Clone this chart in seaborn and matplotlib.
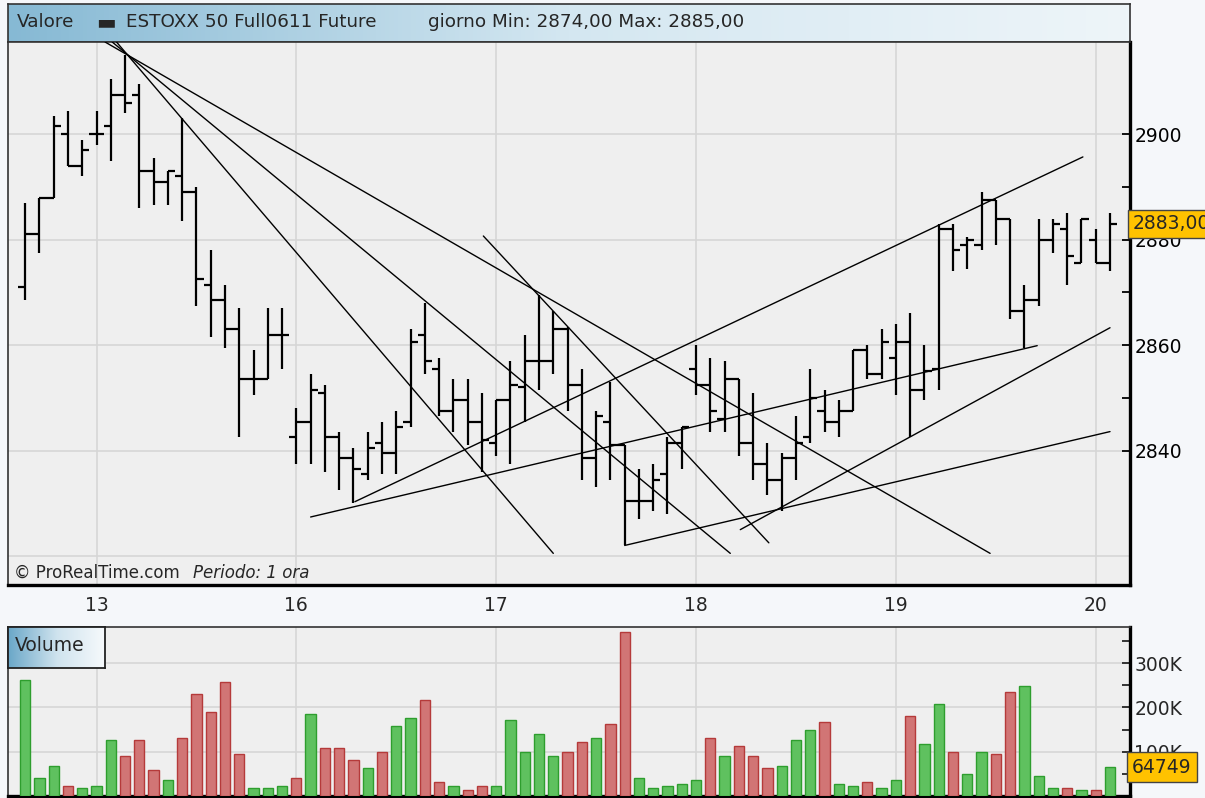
import numpy as np
import pandas as pd
import matplotlib
matplotlib.use("Agg")
import matplotlib.pyplot as plt
import matplotlib.ticker as mticker
import matplotlib.transforms as mtransforms
from matplotlib.colors import LinearSegmentedColormap
import seaborn as sns

# hourly bars, index 0 = first bar on the chart
bar_open = [2871, 2881, 2888, 2900, 2894, 2900, 2901.5, 2907.5, 2907.5, 2893,
            2891, 2892, 2889, 2871.5, 2868.5, 2863, 2853.5, 2853.5, 2862, 2842.5,
            2845.5, 2851, 2842.5, 2838.5, 2835.5, 2841.5, 2839.5, 2845.5, 2862, 2855.5,
            2847.5, 2849.5, 2845.5, 2841.5, 2849.5, 2852, 2857, 2857, 2863, 2852.5,
            2838.5, 2845.5, 2841, 2830.5, 2830.5, 2835.5, 2841.5, 2855.5, 2852.5, 2846,
            2853.5, 2841.5, 2837.5, 2834.5, 2838.5, 2842.5, 2847.5, 2845.5, 2847.5, 2859,
            2854.5, 2857.5, 2860.5, 2851.5, 2855.5, 2882, 2879, 2879, 2887.5, 2884,
            2866.5, 2868.5, 2880, 2882, 2875.5, 2880, 2875.5]
bar_high = [2887, 2888, 2903.5, 2904.5, 2899, 2904.5, 2910.5, 2915, 2909.5, 2895.5,
            2893, 2903, 2890, 2878, 2871.5, 2867, 2859, 2867, 2867, 2848,
            2854.5, 2852.5, 2843.5, 2840.5, 2843.5, 2845.5, 2847.5, 2863, 2868, 2857.5,
            2853.5, 2853.5, 2851, 2849.5, 2857, 2862, 2869.5, 2866.5, 2863.5, 2855.5,
            2847.5, 2853, 2841, 2836.5, 2837.5, 2842.5, 2844.5, 2860, 2857.5, 2857,
            2853.5, 2851, 2841.5, 2839.5, 2846.5, 2855.5, 2851.5, 2849.5, 2859, 2860,
            2863, 2864, 2866, 2860, 2883, 2883, 2880.5, 2889, 2887.5, 2884,
            2871.5, 2884, 2884, 2885, 2884, 2882, 2885]
bar_low = [2868.5, 2877.5, 2888, 2894, 2892, 2898, 2895, 2904, 2886, 2886.5,
           2886.5, 2883.5, 2867.5, 2861.5, 2859.5, 2842.5, 2850.5, 2853.5, 2855.5, 2837.5,
           2837.5, 2836, 2832.5, 2830, 2834.5, 2835.5, 2835.5, 2844.5, 2854.5, 2846.5,
           2843.5, 2841, 2836, 2839, 2837.5, 2845.5, 2851.5, 2854.5, 2847.5, 2834.5,
           2833, 2834.5, 2822, 2827, 2828.5, 2828, 2836.5, 2850.5, 2843.5, 2843.5,
           2839, 2834.5, 2831.5, 2828.5, 2834.5, 2841.5, 2843.5, 2842.5, 2847.5, 2853.5,
           2853.5, 2850.5, 2842.5, 2849.5, 2851.5, 2874, 2874.5, 2878, 2879, 2865,
           2859.5, 2867.5, 2877.5, 2871.5, 2875.5, 2875.5, 2874]
bar_close = [2881, 2888, 2901.5, 2894, 2897, 2900, 2907.5, 2906, 2893, 2891,
             2893, 2889, 2872.5, 2868.5, 2863, 2853.5, 2853.5, 2862, 2862, 2845.5,
             2851.5, 2842.5, 2838.5, 2836.5, 2840.5, 2839.5, 2844.5, 2860.5, 2857, 2847.5,
             2849.5, 2845.5, 2842, 2849.5, 2852.5, 2857, 2857, 2863, 2852.5, 2838.5,
             2846.5, 2841, 2830.5, 2830.5, 2834.5, 2841.5, 2844.5, 2852.5, 2847.5, 2853.5,
             2841.5, 2837.5, 2834.5, 2838.5, 2841.5, 2850, 2845.5, 2847.5, 2859, 2854.5,
             2860.5, 2860.5, 2851.5, 2855, 2882, 2878, 2880, 2887.5, 2884, 2866.5,
             2868.5, 2880, 2883, 2877, 2884, 2875.5, 2883]
volume = [262000, 40000, 68000, 23000, 17000, 23000, 126000, 90000, 126000, 58000,
          35000, 131000, 230000, 190000, 257000, 95000, 17000, 17000, 23000, 40000,
          184000, 108000, 108000, 81000, 63000, 99000, 158000, 176000, 217000, 32000,
          23000, 13000, 23000, 23000, 171000, 99000, 140000, 90000, 99000, 122000,
          131000, 163000, 370000, 40000, 17000, 23000, 27000, 35000, 131000, 90000,
          113000, 90000, 63000, 68000, 126000, 149000, 167000, 27000, 23000, 32000,
          17000, 35000, 181000, 117000, 207000, 99000, 50000, 99000, 95000, 235000,
          248000, 45000, 17000, 17000, 13000, 13000, 64749]

day_pos = [5, 19, 33, 47, 61, 75]
day_labels = ["13", "16", "17", "18", "19", "20"]

# hand-drawn trendlines: (start bar, start price, end bar, end price)
line_x0 = [6.4, 6.1, 5.6, 32.1, 20.0, 42.0, 23.1, 50.1]
line_y0 = [2917.5, 2917.5, 2917.5, 2880.7, 2827.4, 2822.0, 2830.3, 2825.0]
line_x1 = [37.0, 49.4, 67.6, 52.1, 70.9, 76.0, 74.1, 76.0]
line_y1 = [2820.5, 2820.5, 2820.5, 2822.5, 2859.9, 2843.6, 2895.7, 2863.3]

last_price = 2883.00
last_volume = 64749

df = pd.DataFrame({"idx": np.arange(len(bar_close)), "open": bar_open, "high": bar_high,
                   "low": bar_low, "close": bar_close, "volume": volume})
prev_close = df["close"].shift(1).fillna(df["open"])
df["dir"] = np.where(df["close"] >= prev_close, "up", "down")

sns.set_theme(style="white")
plt.rcParams["font.family"] = ["DejaVu Sans"]

W, H = 1205, 798
fig = plt.figure(figsize=(W / 100, H / 100), dpi=100, facecolor="#F5F7FA")


def frac(x0, y0, x1, y1):
    return [x0 / W, 1 - y1 / H, (x1 - x0) / W, (y1 - y0) / H]


grad = np.linspace(0, 1, 256).reshape(1, -1)
bg = "#EFEFEF"
grid_c = "#D6D6D6"

# header bar
ax_head = fig.add_axes(frac(8, 4, 1130, 42))
ax_head.imshow(grad, aspect="auto", extent=[0, 1, 0, 1],
               cmap=LinearSegmentedColormap.from_list("hd", ["#86B9D4", "#D4E7F1", "#EEF5F9"]))
ax_head.set_xticks([]); ax_head.set_yticks([])
for s in ax_head.spines.values():
    s.set_color("#333333"); s.set_linewidth(1.2)
ty = 1 - 22 / H
fig.text(17 / W, ty, "Valore", fontsize=13.2, va="center")
fig.text(96 / W, ty, "▬", fontsize=15, va="center")
fig.text(126 / W, ty, "ESTOXX 50 Full0611 Future", fontsize=13.2, va="center")
fig.text(428 / W, ty, "giorno Min: 2874,00 Max: 2885,00", fontsize=13.2, va="center")

# price panel
ax = fig.add_axes(frac(8, 42, 1130, 585))
ax.set_facecolor(bg)
for p in [2820, 2840, 2860, 2880, 2900]:
    ax.axhline(p, color=grid_c, lw=1.2, zorder=0)
for d in day_pos:
    ax.axvline(d, color=grid_c, lw=1.2, zorder=0)

ax.vlines(df["idx"], df["low"], df["high"], color="black", lw=1.6, zorder=3)
ax.hlines(df["open"], df["idx"] - 0.5, df["idx"], color="black", lw=1.6, zorder=3)
ax.hlines(df["close"], df["idx"], df["idx"] + 0.5, color="black", lw=1.6, zorder=3)

for x0, y0, x1, y1 in zip(line_x0, line_y0, line_x1, line_y1):
    ax.plot([x0, x1], [y0, y1], color="black", lw=1.0, zorder=4)

ax.set_xlim(-1.2, 77.4)
ax.set_ylim(2814.5, 2917.5)
ax.yaxis.tick_right()
ax.set_yticks(np.arange(2840, 2901, 10))
ax.yaxis.set_major_formatter(mticker.FuncFormatter(
    lambda v, p: f"{int(v)}" if int(round(v)) % 20 == 0 else ""))
ax.tick_params(axis="y", direction="in", length=6, width=1.3, labelsize=13.5, pad=3, colors="black")
ax.set_xticks(day_pos)
ax.set_xticklabels(day_labels)
ax.tick_params(axis="x", direction="out", length=4, width=1.3, labelsize=13.5, pad=4)
for side in ["left", "top"]:
    ax.spines[side].set_color("#333333"); ax.spines[side].set_linewidth(1.2)
for side in ["right", "bottom"]:
    ax.spines[side].set_color("black"); ax.spines[side].set_linewidth(2.4)

blend = mtransforms.blended_transform_factory(ax.transAxes, ax.transData)
ax.text(1.002, last_price, f"{last_price:.2f}".replace(".", ","), transform=blend,
        va="center", ha="left", fontsize=13.5, zorder=10, clip_on=False,
        bbox=dict(boxstyle="square,pad=0.25", fc="#FFC200", ec="#444444", lw=1))

fig.text(14 / W, 1 - 573 / H, "© ProRealTime.com", fontsize=12, va="center")
fig.text(193 / W, 1 - 573 / H, "Periodo: 1 ora", fontsize=12, va="center", style="italic")

# volume panel
axv = fig.add_axes(frac(8, 627, 1130, 796))
axv.set_facecolor(bg)
for v in [100000, 200000, 300000]:
    axv.axhline(v, color=grid_c, lw=1.2, zorder=0)
for d in day_pos:
    axv.axvline(d, color=grid_c, lw=1.2, zorder=0)

sns.barplot(data=df, x="idx", y="volume", hue="dir", native_scale=True, dodge=False,
            palette={"up": "#4FD14F", "down": "#E06666"}, width=0.72, errorbar=None,
            legend=False, ax=axv, zorder=3)
for patch in axv.patches:
    fc = patch.get_facecolor()
    patch.set_edgecolor("#2E9E2E" if fc[1] > fc[0] else "#B53A3A")
    patch.set_linewidth(1.0)

axv.set_xlim(-1.2, 77.4)
axv.set_ylim(0, 381500)
axv.set_xlabel(""); axv.set_ylabel("")
axv.set_xticks(day_pos)
axv.set_xticklabels([])
axv.tick_params(axis="x", length=0)
axv.yaxis.tick_right()
axv.set_yticks(np.arange(50000, 351000, 50000))
axv.yaxis.set_major_formatter(mticker.FuncFormatter(
    lambda v, p: f"{int(v / 1000)}K" if int(round(v)) % 100000 == 0 else ""))
axv.tick_params(axis="y", direction="in", length=6, width=1.3, labelsize=13.5, pad=3)
for side in ["left", "top"]:
    axv.spines[side].set_color("#333333"); axv.spines[side].set_linewidth(1.2)
for side in ["right", "bottom"]:
    axv.spines[side].set_color("black"); axv.spines[side].set_linewidth(2.4)

# last-volume box sits over the 100K label, as on the original chart
blendv = mtransforms.blended_transform_factory(axv.transAxes, axv.transData)
axv.text(1.002, last_volume, f"{last_volume}", transform=blendv,
         va="center", ha="left", fontsize=13.5, zorder=10, clip_on=False,
         bbox=dict(boxstyle="square,pad=0.3", fc="#FFC200", ec="#444444", lw=1))

# "Volume" tag
ax_tag = fig.add_axes(frac(8, 627, 105, 668))
ax_tag.imshow(grad, aspect="auto", extent=[0, 1, 0, 1],
              cmap=LinearSegmentedColormap.from_list("tg", ["#6AA7C8", "#CFE3EE", "#F7FAFC"]))
ax_tag.set_xticks([]); ax_tag.set_yticks([])
for s in ax_tag.spines.values():
    s.set_color("#222222"); s.set_linewidth(1.3)
ax_tag.text(0.07, 0.55, "Volume", transform=ax_tag.transAxes, fontsize=13.5, va="center")

fig.savefig("out.png", dpi=100, facecolor=fig.get_facecolor())
